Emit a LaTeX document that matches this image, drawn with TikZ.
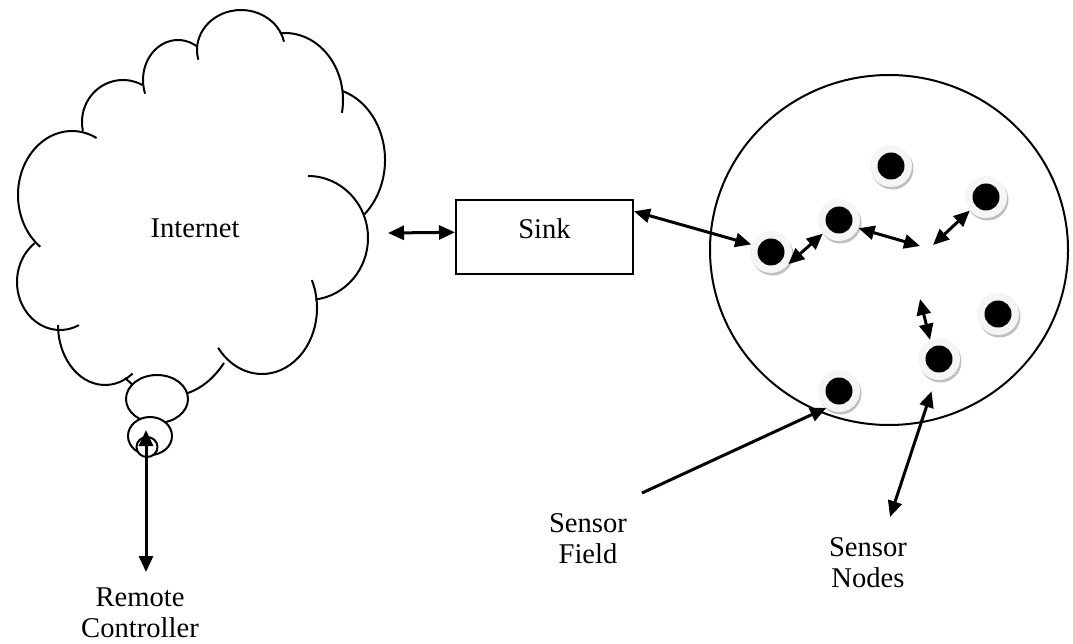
\documentclass[tikz,border=0pt]{standalone}
\usepackage{fontspec}
\setmainfont{Liberation Serif}
\usetikzlibrary{arrows.meta,shadows,shapes.geometric}
\tikzset{
  cl/.style={line width=2pt},
  tipA/.tip={Triangle[length=16pt,width=14pt]},
  arr/.style={line width=3pt, -tipA},
  arr2/.style={line width=3pt, tipA-tipA},
  lbl/.style={font=\fontsize{28.6}{31}\selectfont, align=center, inner sep=0pt},
  ell/.style={cl, draw, fill=white, ellipse, inner sep=0pt},
  sensor/.style={circle, minimum size=42pt, inner sep=0pt, fill=gray!8,
    drop shadow={shadow xshift=1.5pt, shadow yshift=-2.5pt, fill=gray!50, opacity=1},
    path picture={\fill[black] (path picture bounding box.center) circle[radius=13.5pt];}},
}
\newcommand{\cloudbump}[6]{\draw[cl] ([shift={(#1,-#2)}]#5:#3 and #4) arc[start angle=#5, end angle=#6, x radius=#3, y radius=#4];}
\begin{document}
\begin{tikzpicture}[x=1pt,y=1pt]
\useasboundingbox (0,0) rectangle (1073,-644);
% cloud
\cloudbump{72}{195}{54}{64}{234}{63}
\cloudbump{123}{122}{41}{42}{192}{62}
\cloudbump{178}{80}{35}{40}{200}{57}
\cloudbump{241}{50}{44}{40}{194}{12}
\cloudbump{285}{100}{58}{67}{94}{-11}
\cloudbump{325}{160}{60}{72}{73}{-49}
\cloudbump{308}{238}{60}{62}{90}{-83}
\cloudbump{262}{308}{55}{66}{25}{-143}
\cloudbump{105}{325}{47}{60}{-54}{-180}
\cloudbump{60}{282}{43}{48}{296}{126}
\draw[cl] (224,-363) .. controls (214,-378) and (202,-388) .. (188,-393);
\draw[cl] (125,-378) -- (134,-386);
\node[ell, minimum width=62pt, minimum height=48pt] (e1) at (157,-399) {};
\node[ell, minimum width=44pt, minimum height=38pt] (e2) at (150,-436) {};
\node[ell, minimum width=21pt, minimum height=20pt] (tc) at (147,-447) {};
\node[lbl, anchor=base] (inet) at (195,-238) {Internet};
\coordinate (cloudE) at (388,-233);
\coordinate (rcEnd) at (146,-572);
\draw[arr2] (rcEnd) -- ([yshift=6pt]tc.north -| rcEnd);
\node[lbl, anchor=base] (rc) at (140,-637) {Remote\\Controller};
% sink
\node[cl, draw, rectangle, minimum width=177pt, minimum height=74pt, inner sep=0pt,
  font=\fontsize{28.6}{31}\selectfont, text height=19pt, text depth=16pt] (sink) at (544.5,-237) {Sink};
\draw[arr2] (cloudE) -- (sink.177);
% sensor field
\draw[cl] (889,-250) ellipse[x radius=179, y radius=175];
\node[sensor] (n1) at (771,-252) {};
\node[sensor] (n2) at (839,-220) {};
\node[sensor] (n3) at (891,-166) {};
\node[sensor] (n4) at (986,-197) {};
\node[sensor] (n5) at (998,-314) {};
\node[sensor] (n6) at (939,-359) {};
\node[sensor] (n7) at (839,-391) {};
\coordinate (g1) at (920,-246);
\coordinate (g2) at (933,-245);
\coordinate (g3) at (920,-299);
\draw[arr2] (sink.16) -- (n1.159);
\draw[arr2] (n1.-35) -- (n2.220);
\draw[arr2] (n2.-23) -- (g1);
\draw[arr2] (n4.220) -- (g2);
\draw[arr2] (g3) -- (n6.115);
% labels
\node[lbl, anchor=base] (sf) at (588,-563) {Sensor\\Field};
\coordinate (sfA) at (642,-493);
\draw[arr] (sfA) -- (n7.233);
\node[lbl, anchor=base] (sn) at (868,-587) {Sensor\\Nodes};
\coordinate (snA) at (890,-517);
\draw[arr2, shorten >=12pt] (snA) -- (n6.260);
\end{tikzpicture}
\end{document}
